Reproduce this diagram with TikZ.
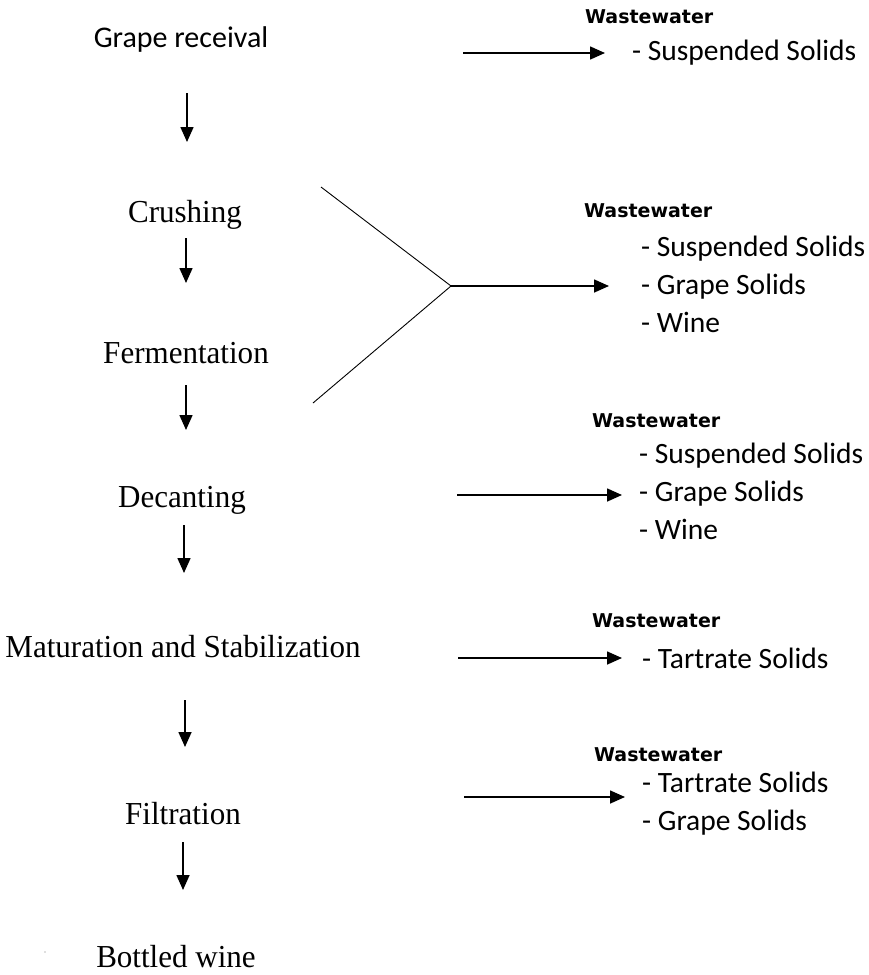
\documentclass[tikz,border=0pt]{standalone}
\usepackage{fontspec}
\setmainfont{Liberation Serif}
\newfontfamily\stepfont[FakeStretch=0.97]{Liberation Serif}
\newfontfamily\calfont{Carlito}
\newfontfamily\wwfont{DejaVu Sans}
\usetikzlibrary{arrows.meta}

\begin{document}
\begin{tikzpicture}[x=1pt,y=-1pt,>={Triangle[length=15pt,width=13pt]},
  stepnode/.style={inner sep=0pt,anchor=base,font=\stepfont\fontsize{32}{38}\selectfont},
  calnode/.style={inner sep=0pt,anchor=base,font=\calfont\fontsize{30}{36}\selectfont},
  wwnode/.style={inner sep=0pt,anchor=base west,font=\wwfont\bfseries\fontsize{19}{23}\selectfont},
  itemnode/.style={inner sep=0pt,anchor=base west,font=\calfont\fontsize{29.5}{36}\selectfont},
  flow/.style={->,line width=1.6pt},
  split/.style={line width=0.9pt}]
\useasboundingbox (0,0) rectangle (869,975);
\fill[white] (0,0) rectangle (869,975);
% process steps
\node[calnode] (grape) at (181,47) {Grape receival};
\node[stepnode] (crush) at (185,222) {Crushing};
\node[stepnode] (ferm) at (186,363) {Fermentation};
\node[stepnode] (decant) at (182,507) {Decanting};
\node[stepnode] (matur) at (183,657) {Maturation and Stabilization};
\node[stepnode] (filt) at (183,824) {Filtration};
\node[stepnode] (bottle) at (176,967) {Bottled wine};
\fill[gray!50] (45,952) circle (0.8);
% down arrows
\coordinate (d1s) at (187,93);  \coordinate (d1e) at (187,142);
\coordinate (d2s) at (186,238); \coordinate (d2e) at (186,283);
\coordinate (d3s) at (186,385); \coordinate (d3e) at (186,430);
\coordinate (d4s) at (184,525); \coordinate (d4e) at (184,573);
\coordinate (d5s) at (185,700); \coordinate (d5e) at (185,747);
\coordinate (d6s) at (183,842); \coordinate (d6e) at (183,890);
\draw[flow] (d1s) -- (d1e);
\draw[flow] (d2s) -- (d2e);
\draw[flow] (d3s) -- (d3e);
\draw[flow] (d4s) -- (d4e);
\draw[flow] (d5s) -- (d5e);
\draw[flow] (d6s) -- (d6e);
% wastewater 1
\node[wwnode] (ww1) at (585,23) {Wastewater};
\node[itemnode] (ss1) at (632,60) {- Suspended Solids};
\coordinate (w1s) at (463,53); \coordinate (w1e) at (605,53);
\draw[flow] (w1s) -- (w1e);
% wastewater 2 (crushing + fermentation)
\coordinate (y1) at (321,187); \coordinate (yv) at (451,286); \coordinate (y2) at (313,403);
\coordinate (w2e) at (609,286);
\draw[split] (y1) -- (yv) -- (y2);
\draw[flow] (yv) -- (w2e);
\node[wwnode] (ww2) at (584,217) {Wastewater};
\node[itemnode] (ss2) at (641,256) {- Suspended Solids};
\node[itemnode] (gs2) at (641,294) {- Grape Solids};
\node[itemnode] (wn2) at (641,332) {- Wine};
% wastewater 3
\node[wwnode] (ww3) at (592,427) {Wastewater};
\node[itemnode] (ss3) at (639,463) {- Suspended Solids};
\node[itemnode] (gs3) at (639,501) {- Grape Solids};
\node[itemnode] (wn3) at (639,539) {- Wine};
\coordinate (w3s) at (457,495); \coordinate (w3e) at (622,495);
\draw[flow] (w3s) -- (w3e);
% wastewater 4
\node[wwnode] (ww4) at (592,627) {Wastewater};
\node[itemnode] (ts4) at (642,668) {- Tartrate Solids};
\coordinate (w4s) at (458,658); \coordinate (w4e) at (622,658);
\draw[flow] (w4s) -- (w4e);
% wastewater 5
\node[wwnode] (ww5) at (594,761) {Wastewater};
\node[itemnode] (ts5) at (642,792) {- Tartrate Solids};
\node[itemnode] (gs5) at (642,830) {- Grape Solids};
\coordinate (w5s) at (464,797); \coordinate (w5e) at (625,797);
\draw[flow] (w5s) -- (w5e);
\end{tikzpicture}
\end{document}
